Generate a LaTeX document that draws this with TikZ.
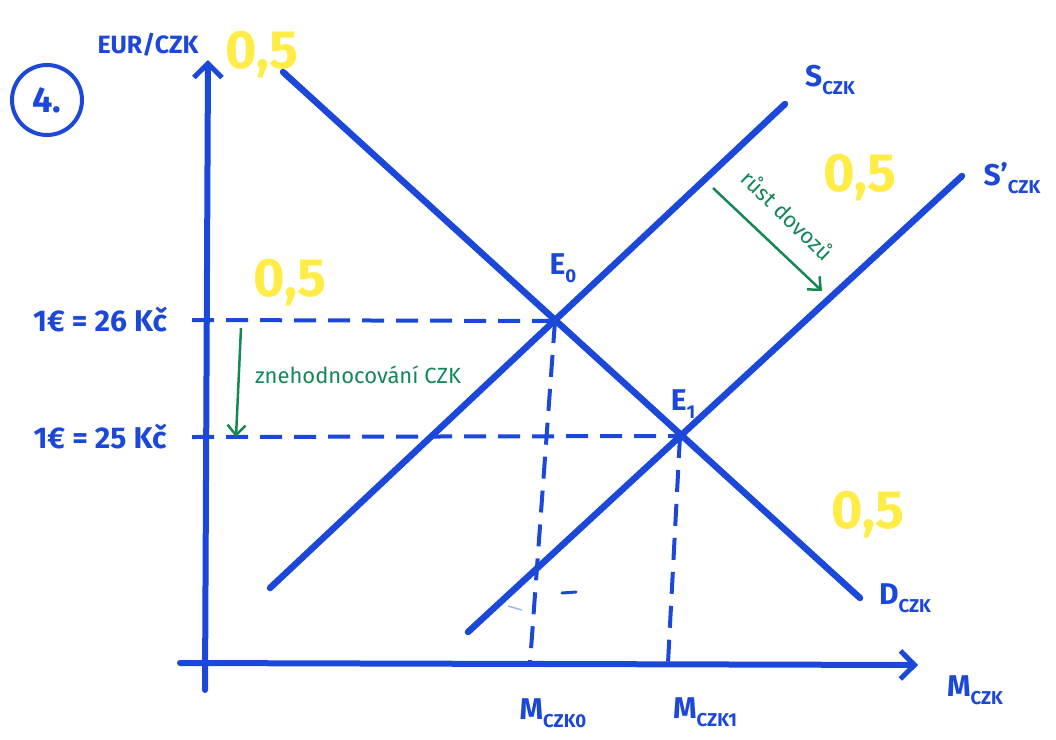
\documentclass[tikz,border=0pt]{standalone}
\usepackage{fontspec}
\setmainfont{Fira Sans}
\usetikzlibrary{arrows.meta}
\definecolor{pen}{RGB}{28,72,218}
\definecolor{greenpen}{RGB}{20,135,85}
\definecolor{hl}{RGB}{255,236,70}
\newcommand{\lowsub}[1]{\raisebox{-0.28em}{\scalebox{0.62}{#1}}}
\begin{document}
\begin{tikzpicture}[x=1pt,y=-1pt,
  curve/.style={pen, line width=6.5pt, line cap=round},
  axis/.style={pen, line width=6pt, line cap=round, -{Straight Barb[length=14pt,width=28pt,line width=5pt]}},
  guide/.style={pen, line width=4pt, dash pattern=on 22pt off 12pt},
  lab/.style={text=pen, font=\fontsize{30}{32}\selectfont\bfseries, inner sep=0pt},
  yel/.style={text=hl, font=\fontsize{54}{56}\selectfont\bfseries, inner sep=0pt},
  note/.style={text=greenpen, font=\fontsize{22}{24}\selectfont, inner sep=0pt},
  shiftarrow/.style={greenpen, line width=2.5pt, -{Straight Barb[length=10pt,width=18pt,line width=2.5pt]}}
]
\useasboundingbox (0,0) rectangle (1056,739);
% yellow marks
\node[yel] (y1) at (262,55) {0,5};
\node[yel] (y2) at (860,178) {0,5};
\node[yel] (y3) at (290,283) {0,5};
\node[yel] (y4) at (868,515) {0,5};
% coordinates
\coordinate (yb) at (205,690); \coordinate (yt) at (208,60);
\coordinate (xl) at (180,663); \coordinate (xr) at (918,665);
\coordinate (D1) at (283,72); \coordinate (D2) at (860,598);
\coordinate (S1) at (270,588); \coordinate (S2) at (785,104);
\coordinate (T1) at (468,632); \coordinate (T2) at (962,176);
\coordinate (E0) at (555,321); \coordinate (E1) at (680,436);
\coordinate (t26) at (192,320); \coordinate (t25) at (192,437);
\coordinate (m0) at (530,663); \coordinate (m1) at (668,663);
% guides
\draw[guide] (t26) -- (E0);
\draw[guide] (t25) -- (E1);
\draw[guide] (E0) -- (m0);
\draw[guide] (E1) -- (m1);
% axes
\draw[axis] (yb) -- (yt);
\draw[axis] (xl) -- (xr);
% curves
\draw[curve] (D1) -- (D2);
\draw[curve] (S1) -- (S2);
\draw[curve] (T1) -- (T2);
% stray marks
\draw[pen, line width=3pt, line cap=round] (562,593) -- (576,592);
\draw[pen!40, line width=1.5pt] (508,606) -- (522,610);
% labels
\node[draw=pen, circle, line width=4pt, minimum size=70pt, lab, font=\fontsize{36}{38}\selectfont\bfseries] (num) at (47,100) {4.};
\node[lab, font=\fontsize{25}{27}\selectfont\bfseries] (ylab) at (148,45) {EUR/CZK};
\node[lab] (p26) at (100,320) {1€ = 26 Kč};
\node[lab] (p25) at (100,437) {1€ = 25 Kč};
\node[lab] (sl) at (830,80) {S\lowsub{CZK}};
\node[lab] (tl) at (1012,178) {S'\lowsub{CZK}};
\node[lab] (dl) at (905,598) {D\lowsub{CZK}};
\node[lab] (ml) at (975,690) {M\lowsub{CZK}};
\node[lab] (m0l) at (553,713) {M\lowsub{CZK0}};
\node[lab] (m1l) at (705,712) {M\lowsub{CZK1}};
\node[lab] (e0l) at (563,268) {E\lowsub{0}};
\node[lab] (e1l) at (683,404) {E\lowsub{1}};
% green notes
\coordinate (g1) at (241,328); \coordinate (g2) at (236,437);
\draw[shiftarrow] (g1) -- (g2);
\node[note] (n1) at (358,375) {znehodnocování CZK};
\coordinate (g3) at (713,188); \coordinate (g4) at (822,291);
\draw[shiftarrow] (g3) -- (g4);
\node[note, rotate=-44] (n2) at (788,215) {růst dovozů};
\end{tikzpicture}
\end{document}
